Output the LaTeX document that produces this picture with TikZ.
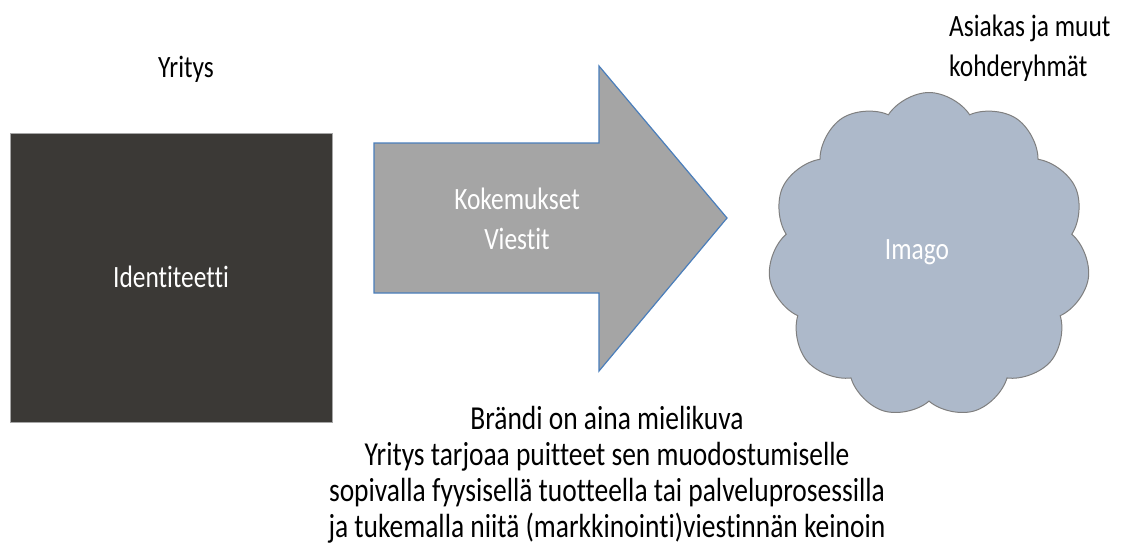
\documentclass[tikz,border=0pt]{standalone}
\usepackage{fontspec}
\setmainfont[FakeStretch=0.82, Ligatures=NoCommon]{Carlito}
\usepackage{tikz}
\usetikzlibrary{shapes.symbols}

\definecolor{boxdark}{HTML}{3B3936}
\definecolor{boxedge}{HTML}{A6A6A6}
\definecolor{arrowfill}{HTML}{A5A5A5}
\definecolor{arrowedge}{HTML}{4A7EBB}
\definecolor{cloudfill}{HTML}{ADB9CA}
\definecolor{cloudedge}{HTML}{7F7F7F}

\begin{document}
\begin{tikzpicture}[
    x=1pt, y=-1pt,
    font=\fontsize{31}{40}\selectfont,
    caption/.style={
        inner sep=0pt,
        text=black
    },
    inlabel/.style={
        inner sep=0pt,
        text=white,
        align=center
    }
]
\useasboundingbox (0,0) rectangle (1135,547);

% Identity box
\node[draw=boxedge, line width=1pt, fill=boxdark, minimum width=322pt, minimum height=289pt, inner sep=0pt] (box) at (171,277.5) {};
\node[inlabel] (identiteetti) at (171,277) {Identiteetti};
\node[caption, anchor=base] (yritys) at (186,77) {Yritys};

% Arrow
\draw[draw=arrowedge, line width=1.2pt, fill=arrowfill, line join=miter]
    (374,143) -- (599,143) -- (599,66) -- (727,218) -- (599,371) -- (599,293) -- (374,293) -- cycle;
\node[inlabel] (viestit) at (517,219) {Kokemukset\\Viestit};

% Cloud
\node[cloud, cloud puffs=11, cloud puff arc=115, aspect=1, draw=cloudedge, line width=1pt, fill=cloudfill,
      minimum width=322pt, minimum height=325pt, inner sep=0pt] (cloud) at (929,255) {};
\node[inlabel] (imago) at (917,252) {Imago};
\node[caption, anchor=north west, align=left] (asiakas) at (949,15) {Asiakas ja muut\\kohderyhmät};

% Caption below
\node[caption, align=center, font=\fontsize{33.5}{36}\selectfont] (brandi) at (607,475)
    {Brändi on aina mielikuva\\
     Yritys tarjoaa puitteet sen muodostumiselle\\
     sopivalla fyysisellä tuotteella tai palveluprosessilla\\
     ja tukemalla niitä (markkinointi)viestinnän keinoin};

\end{tikzpicture}
\end{document}
